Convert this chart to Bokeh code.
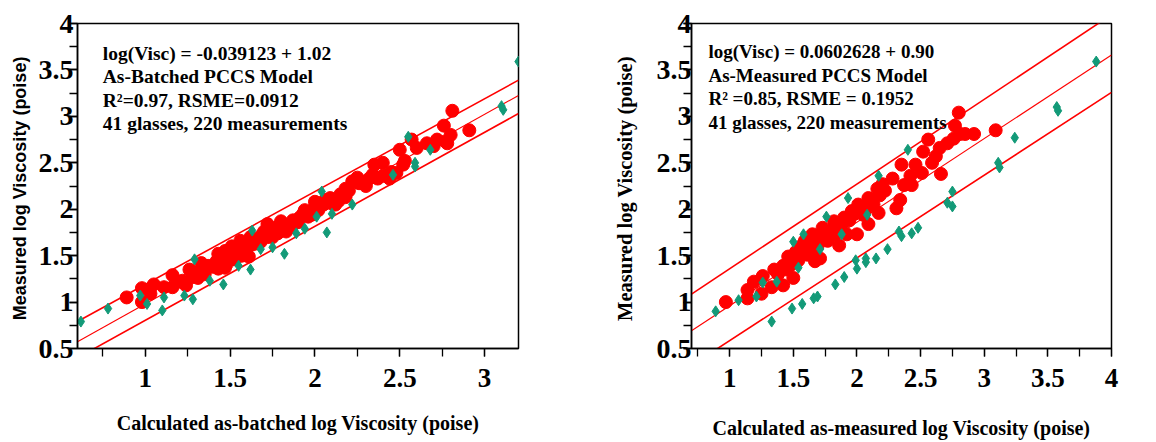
from bokeh.plotting import figure
from bokeh.layouts import row
from bokeh.models import Range1d, FixedTicker, Label
from bokeh.embed import file_html
from bokeh.resources import INLINE

# ---------------- data ----------------
# Left panel: as-batched
left_red_x = [0.89, 0.98, 0.98, 1.03, 1.05, 1.11, 1.16, 1.16, 1.22, 1.26, 1.24, 1.31, 1.33, 1.37,
              1.42, 1.45, 1.47, 1.51, 1.53, 1.56, 1.61, 1.62, 1.65, 1.69, 1.72, 1.75, 1.77, 1.80,
              1.83, 1.87, 1.91, 1.94, 1.98, 2.00, 2.05, 2.09, 2.12, 2.18, 2.18, 2.25, 2.28, 2.32,
              2.35, 2.40, 2.40, 2.44, 2.48, 2.50, 2.53, 2.57, 2.60, 2.66, 2.72, 2.76, 2.80, 2.78,
              2.81, 2.91, 1.40, 1.43, 1.48, 1.50, 1.52, 1.55, 1.58, 1.60, 1.63, 1.66, 1.68, 1.70,
              1.72, 1.74, 1.78, 1.80, 1.82, 1.85, 1.87, 1.90, 1.93, 1.96, 1.99, 2.02, 2.06, 2.10,
              2.14, 2.20, 2.26, 2.30, 2.34, 2.37, 1.35, 1.30, 1.20, 1.28, 2.70, 2.77, 1.43, 1.47,
              2.52, 2.45, 2.15, 2.22, 1.57, 1.62]
left_red_y = [1.05, 1.15, 1.00, 1.09, 1.19, 1.16, 1.16, 1.29, 1.23, 1.35, 1.18, 1.26, 1.42, 1.39,
              1.44, 1.49, 1.55, 1.60, 1.46, 1.66, 1.49, 1.70, 1.63, 1.73, 1.84, 1.70, 1.80, 1.87,
              1.76, 1.84, 1.91, 1.99, 1.94, 2.08, 2.05, 2.12, 2.05, 2.22, 2.13, 2.34, 2.28, 2.33,
              2.48, 2.50, 2.36, 2.33, 2.39, 2.64, 2.52, 2.75, 2.66, 2.71, 2.75, 2.90, 2.80, 2.71,
              3.06, 2.85, 1.38, 1.52, 1.41, 1.50, 1.55, 1.52, 1.60, 1.58, 1.62, 1.68, 1.65, 1.76,
              1.70, 1.78, 1.74, 1.79, 1.82, 1.80, 1.88, 1.86, 1.95, 1.92, 2.00, 1.99, 2.10, 2.06,
              2.09, 2.20, 2.28, 2.25, 2.37, 2.33, 1.30, 1.32, 1.22, 1.27, 2.68, 2.73, 1.36, 1.37,
              2.48, 2.40, 2.16, 2.30, 1.50, 1.66]
left_green_x = [0.62, 0.78, 0.97, 1.01, 1.10, 1.11, 1.23, 1.28, 1.29, 1.38, 1.46, 1.55, 1.62, 1.63,
                1.68, 1.75, 1.82, 1.89, 1.94, 2.01, 2.04, 2.07, 2.10, 2.22, 2.46, 2.55, 2.59, 2.59,
                2.68, 3.10, 3.11, 3.20]
left_green_y = [0.79, 0.93, 1.07, 0.98, 0.91, 1.05, 1.07, 1.03, 1.46, 1.23, 1.19, 1.39, 1.35, 1.77,
                1.57, 1.59, 1.52, 1.74, 1.79, 1.92, 2.19, 1.75, 1.95, 2.05, 2.37, 2.78, 2.50, 2.46,
                2.64, 3.11, 3.07, 3.59]
# fit line and band lines: (intercept, slope)
left_fit = (-0.039123, 1.02)
left_upper = (0.19, 1.00)
left_lower = (-0.208, 1.012)
left_text = ["log(Visc) = -0.039123 + 1.02", "As-Batched PCCS Model",
             "R\u00b2=0.97, RSME=0.0912", "41 glasses, 220 measurements"]

# Right panel: as-measured
right_red_x = [0.97, 1.14, 1.14, 1.19, 1.25, 1.26, 1.33, 1.35, 1.42, 1.42, 1.46, 1.50, 1.52, 1.54,
               1.56, 1.59, 1.61, 1.65, 1.67, 1.69, 1.71, 1.73, 1.77, 1.79, 1.82, 1.84, 1.86, 1.90,
               1.92, 1.96, 2.00, 2.01, 2.05, 2.09, 2.09, 2.13, 2.17, 2.18, 2.20, 2.22, 2.28, 2.31,
               2.34, 2.35, 2.37, 2.42, 2.43, 2.46, 2.51, 2.52, 2.56, 2.59, 2.62, 2.65, 2.66, 2.71,
               2.76, 2.77, 2.80, 2.81, 2.85, 2.92, 3.09, 1.55, 1.58, 1.62, 1.64, 1.70, 1.75, 1.80,
               1.83, 1.88, 1.94, 1.98, 2.03, 2.07, 2.12, 2.16, 1.48, 1.52, 1.45, 1.38]
right_red_y = [1.00, 1.04, 1.13, 1.22, 1.09, 1.28, 1.16, 1.35, 1.39, 1.18, 1.49, 1.26, 1.54, 1.45,
               1.60, 1.66, 1.51, 1.73, 1.44, 1.60, 1.47, 1.80, 1.66, 1.73, 1.87, 1.80, 1.61, 1.91,
               1.73, 1.98, 1.73, 2.05, 1.94, 1.84, 2.12, 2.05, 1.96, 2.15, 2.27, 2.20, 2.33, 2.01,
               2.10, 2.48, 2.26, 2.36, 2.26, 2.48, 2.39, 2.62, 2.75, 2.50, 2.57, 2.66, 2.38, 2.71,
               2.76, 2.90, 3.04, 2.81, 2.81, 2.81, 2.85, 1.56, 1.52, 1.63, 1.55, 1.69, 1.72, 1.77,
               1.73, 1.83, 1.88, 1.95, 2.02, 2.00, 2.10, 2.22, 1.40, 1.46, 1.35, 1.30]
right_green_x = [0.89, 1.07, 1.21, 1.26, 1.33, 1.37, 1.50, 1.49, 1.54, 1.57, 1.58, 1.66, 1.69, 1.71,
                 1.76, 1.83, 1.88, 1.90, 1.93, 1.99, 2.00, 2.07, 2.07, 2.08, 2.15, 2.17, 2.24, 2.33,
                 2.35, 2.40, 2.43, 2.48, 2.71, 2.75, 2.75, 3.11, 3.12, 3.24, 3.57, 3.58, 3.88]
right_green_y = [0.90, 1.02, 1.06, 1.21, 0.79, 1.22, 1.65, 0.93, 1.37, 0.98, 1.73, 1.04, 1.06, 1.57,
                 1.92, 1.19, 1.73, 1.27, 2.12, 1.45, 1.36, 1.47, 1.43, 1.94, 1.47, 2.36, 1.57, 1.76,
                 1.71, 2.64, 1.74, 1.80, 2.07, 2.19, 2.03, 2.50, 2.45, 2.77, 3.10, 3.06, 3.59]
right_fit = (0.0602628, 0.90)
right_upper = (0.447, 0.912)
right_lower = (-0.306, 0.891)
right_text = ["log(Visc) = 0.0602628 + 0.90", "As-Measured PCCS Model",
              "R\u00b2 =0.85, RSME = 0.1952", "41 glasses, 220 measurements"]

major_ticks = [0.5, 1.0, 1.5, 2.0, 2.5, 3.0, 3.5, 4.0]
minor_ticks = [0.5, 0.75, 1.0, 1.25, 1.5, 1.75, 2.0, 2.25, 2.5, 2.75, 3.0, 3.25, 3.5, 3.75, 4.0]

RED = "#ff0000"
GREEN = "#139a78"
SERIF = "Liberation Serif"
SANS = "Liberation Sans"


def make_panel(xr, yr, rx, ry, gx, gy, fit, up, lo, texts, text_x, text_y0, text_dy,
               xtitle, ytitle, yfont, ysize, width, bl, br, bt, bb,
               xstand, ystand, ylab_stand, xlab_stand, tsize, xtsize):
    p = figure(width=width, height=442, x_range=Range1d(*xr), y_range=Range1d(*yr),
               output_backend="svg", toolbar_location=None,
               min_border_left=bl, min_border_right=br, min_border_top=bt, min_border_bottom=bb)
    p.grid.visible = False
    p.outline_line_color = "black"
    p.outline_line_width = 1.5
    p.background_fill_color = "white"
    p.border_fill_color = "white"

    xs = [xr[0], xr[1]]
    for (a, b), w in ((up, 1.6), (fit, 1.1), (lo, 1.6)):
        p.line(xs, [a + b * xs[0], a + b * xs[1]], line_color=RED, line_width=w)

    p.scatter(rx, ry, marker="circle", size=13, fill_color=RED, line_color=RED)
    p.scatter(gx, gy, marker="diamond", size=11, fill_color=GREEN, line_color=GREEN)

    for ax in (p.xaxis[0], p.yaxis[0]):
        ax.ticker = FixedTicker(ticks=major_ticks, minor_ticks=minor_ticks)
        ax.axis_line_color = "black"
        ax.axis_line_width = 1.5
        ax.major_tick_line_color = "black"
        ax.minor_tick_line_color = "black"
        ax.major_tick_line_width = 1.3
        ax.minor_tick_line_width = 1.3
        ax.major_tick_in = 0
        ax.minor_tick_in = 0
        ax.major_tick_out = 8
        ax.minor_tick_out = 8
        ax.major_label_text_font = SERIF
        ax.major_label_text_font_style = "bold"
        ax.major_label_text_color = "black"
        ax.axis_label_text_color = "black"
        ax.axis_label_text_font_style = "bold"
    p.xaxis.major_label_text_font_size = "27px"
    p.yaxis.major_label_text_font_size = "28px"
    p.xaxis.major_label_standoff = xstand
    p.yaxis.major_label_standoff = ystand
    p.xaxis.axis_label = xtitle
    p.xaxis.axis_label_text_font = SERIF
    p.xaxis.axis_label_text_font_size = xtsize
    p.xaxis.axis_label_standoff = xlab_stand
    p.yaxis.axis_label = ytitle
    p.yaxis.axis_label_text_font = yfont
    p.yaxis.axis_label_text_font_size = ysize
    p.yaxis.axis_label_standoff = ylab_stand

    for i, t in enumerate(texts):
        p.add_layout(Label(x=text_x, y=text_y0 - i * text_dy, text=t, text_font=SERIF,
                           text_font_style="bold", text_font_size=tsize,
                           text_baseline="middle", text_align="left", text_color="black"))
    return p


left = make_panel((0.6, 3.2), (0.5, 4.0), left_red_x, left_red_y, left_green_x, left_green_y,
                  left_fit, left_upper, left_lower, left_text, 0.749, 3.676, 0.251,
                  "Calculated as-batched log Viscosity (poise)", "Measured  log Viscosity (poise)",
                  SANS, "18px", 600, 77, 82, 13, 94, 12, -4, 6, 22, "19.5px", "20px")
right = make_panel((0.7, 4.0), (0.5, 4.0), right_red_x, right_red_y, right_green_x, right_green_y,
                   right_fit, right_upper, right_lower, right_text, 0.833, 3.697, 0.253,
                   "Calculated as-measured log Viscosity (poise)", "Measured  log Viscosity (poise)",
                   SERIF, "20.5px", 556, 91, 45, 23, 84, 12, -8, 18, 27, "19px", "20px")

layout = row(left, right, spacing=0)
open("out.html", "w").write(file_html(layout, INLINE))
